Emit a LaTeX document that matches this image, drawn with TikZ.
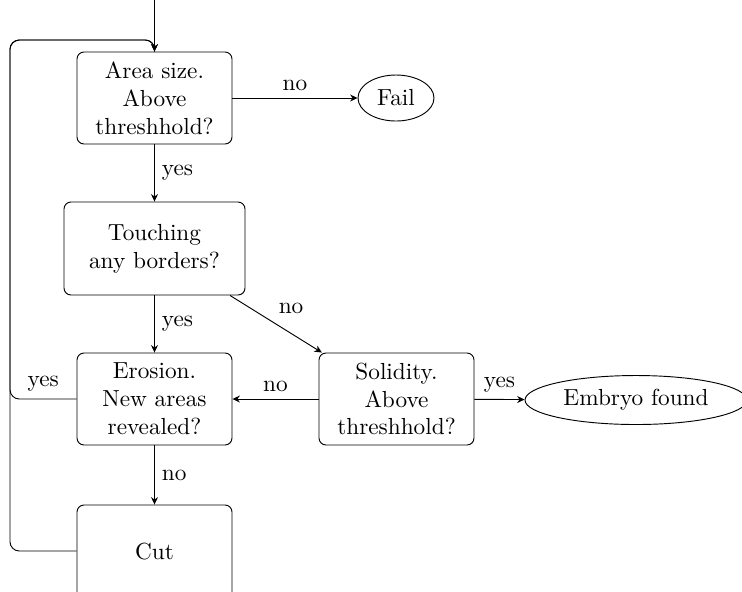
\documentclass[tikz,border=0pt]{standalone}
\usetikzlibrary{shapes.geometric,arrows.meta}
\begin{document}
\def\u{0.43pt}
\begin{tikzpicture}[x=0.43pt,y=-0.43pt,
  box/.style={draw,rounded corners=3pt,align=center,inner sep=0pt},
  oval/.style={draw,ellipse,inner sep=0pt},
  arr/.style={-{Stealth[length=3.2pt,width=3pt]}},
  lab/.style={inner sep=3pt}]
\useasboundingbox (0,0) rectangle (742,591);
\clip (0,0) rectangle (742,591);
\node[box,minimum width=155*\u,minimum height=92*\u] (a) at (154.5,98) {Area size.\\Above\\threshhold?};
\node[oval,minimum width=76*\u,minimum height=46*\u] (fail) at (396,98) {Fail};
\node[box,minimum width=181*\u,minimum height=93*\u] (b) at (154.5,248.5) {Touching\\any borders?};
\node[box,minimum width=155*\u,minimum height=92*\u] (e) at (154.5,399) {Erosion.\\New areas\\revealed?};
\node[box,minimum width=155*\u,minimum height=92*\u] (s) at (396.5,399) {Solidity.\\Above\\threshhold?};
\node[oval,minimum width=222*\u,minimum height=49*\u] (emb) at (636,400) {Embryo found};
\node[box,minimum width=155*\u,minimum height=100*\u] (cut) at (154.5,555) {\raisebox{3.4pt}{Cut}};
\coordinate (start) at (154.5,0);
\coordinate (lt) at (10,40);
\draw[arr] (start) -- (a.north);
\draw[arr] (a) -- node[lab,above,pos=0.5]{no} (fail);
\draw[arr] (a) -- node[lab,right]{yes} (b);
\draw[arr] (b) -- node[lab,right]{yes} (e);
\draw[arr] (b) -- node[lab,above right,pos=0.45]{no} (s);
\draw[arr] (s) -- node[lab,above]{no} (e);
\draw[arr] (s) -- node[lab,above]{yes} (emb);
\draw[arr] (e) -- node[lab,right]{no} (cut);
\draw[arr,rounded corners=4pt] (e.west) -| node[lab,above,pos=0.25]{yes} (lt) -| (a.north);
\draw[rounded corners=4pt] (cut.west |- 0,551) -| (lt) -| (a.north);
\end{tikzpicture}
\end{document}
